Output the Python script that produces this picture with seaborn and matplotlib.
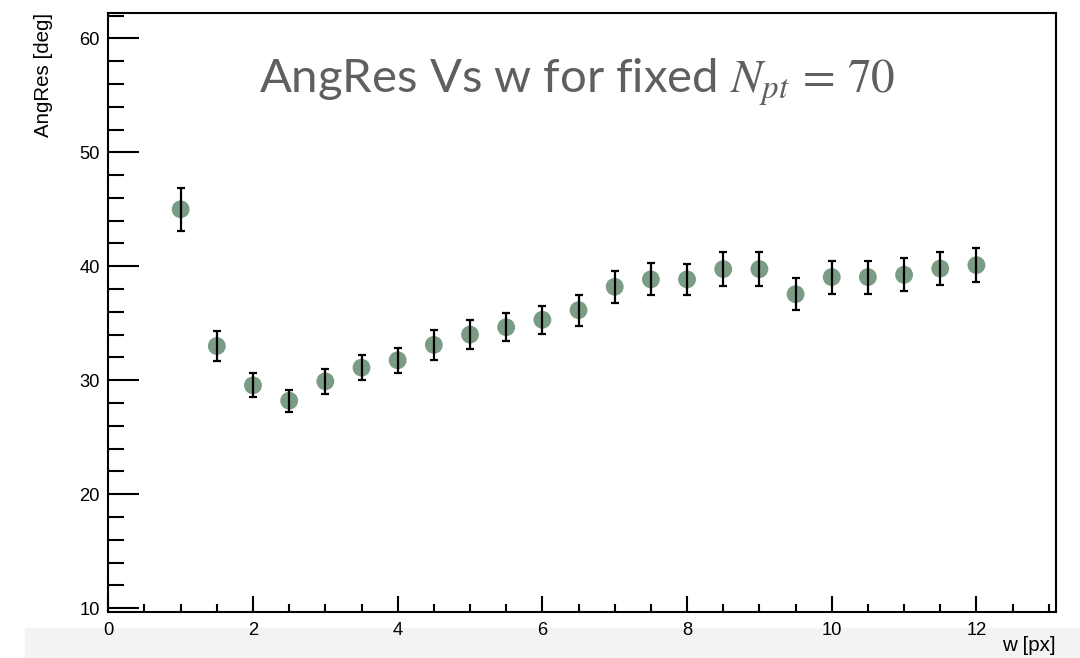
import matplotlib
matplotlib.use("Agg")
import matplotlib.pyplot as plt
from matplotlib.ticker import MultipleLocator
from matplotlib.patches import Rectangle
import pandas as pd
import seaborn as sns

sns.set_style("ticks")
plt.rcParams['font.family'] = ['Liberation Sans', 'DejaVu Sans']
plt.rcParams['mathtext.fontset'] = 'stix'
plt.rcParams['text.color'] = 'black'
plt.rcParams['axes.labelcolor'] = 'black'
plt.rcParams['axes.edgecolor'] = 'black'
plt.rcParams['xtick.color'] = 'black'
plt.rcParams['ytick.color'] = 'black'

# w [px] vs angular resolution
w_px = [1.0, 1.5, 2.0, 2.5, 3.0, 3.5, 4.0, 4.5, 5.0, 5.5, 6.0, 6.5,
        7.0, 7.5, 8.0, 8.5, 9.0, 9.5, 10.0, 10.5, 11.0, 11.5, 12.0]
ang_res = [45.0, 33.0, 29.55, 28.2, 29.9, 31.1, 31.75, 33.1, 34.0, 34.65, 35.3, 36.15,
           38.2, 38.85, 38.85, 39.75, 39.75, 37.55, 39.05, 39.05, 39.25, 39.8, 40.1]
ang_err = [1.9, 1.35, 1.05, 0.95, 1.1, 1.1, 1.1, 1.3, 1.3, 1.25, 1.25, 1.35,
           1.4, 1.4, 1.35, 1.5, 1.5, 1.4, 1.45, 1.45, 1.45, 1.45, 1.5]

df = pd.DataFrame({'w': w_px, 'res': ang_res, 'err': ang_err})

fig = plt.figure(figsize=(10.8, 6.58), dpi=100)
# light grey strip along the bottom of the original screenshot
fig.patches.append(Rectangle((25 / 1080, 0), 1, 30 / 658, transform=fig.transFigure,
                             color='#f3f3f3', zorder=-5))
ax = fig.add_axes([108.3 / 1080, 1 - 612.3 / 658, 947.7 / 1080, 599 / 658])

sns.scatterplot(data=df, x='w', y='res', ax=ax, s=165, color='#7a9b84',
                edgecolor='none', zorder=2, legend=False)
ax.errorbar(df['w'], df['res'], yerr=df['err'], fmt='none', ecolor='black',
            elinewidth=1.6, capsize=2.7, capthick=1.6, zorder=3)

ax.set_xlim(0, 13.1)
ax.set_ylim(9.63, 62.2)
ax.xaxis.set_major_locator(MultipleLocator(2))
ax.xaxis.set_minor_locator(MultipleLocator(0.5))
ax.yaxis.set_major_locator(MultipleLocator(10))
ax.yaxis.set_minor_locator(MultipleLocator(2))
ax.tick_params(axis='both', which='both', direction='in', width=1.5,
               top=False, right=False, labelsize=13.2)
ax.tick_params(axis='x', which='major', length=11.3, pad=7)
ax.tick_params(axis='x', which='minor', length=5.8)
ax.tick_params(axis='y', which='major', length=22.3, pad=6)
ax.tick_params(axis='y', which='minor', length=11.3)
for sp in ax.spines.values():
    sp.set_linewidth(1.5)

ax.set_xlabel('w [px]', fontsize=14.8, loc='right')
ax.set_ylabel('AngRes [deg]', fontsize=14.8, loc='top')
ax.xaxis.set_label_coords(1.0, -0.040)
ax.yaxis.set_label_coords(-0.058, 1.0)

ax.text(0.159, 0.867, r'AngRes Vs w for fixed $N_{pt}\,=\,70$', transform=ax.transAxes,
        fontsize=34, color='#5f5f5f', family=['Lato', 'DejaVu Sans'], va='baseline')

fig.savefig('out.png', dpi=100)
